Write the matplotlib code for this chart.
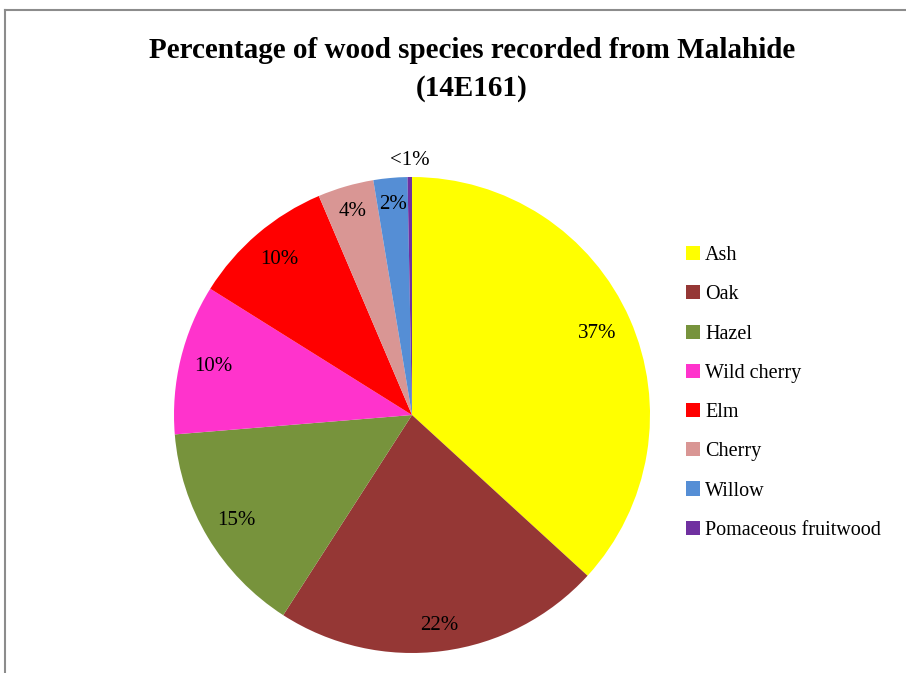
import numpy as np
import matplotlib
matplotlib.use("Agg")
import matplotlib.pyplot as plt
from matplotlib.lines import Line2D
from matplotlib.patches import Patch

species = ["Ash", "Oak", "Hazel", "Wild cherry", "Elm", "Cherry", "Willow",
           "Pomaceous fruitwood"]
percent = [36.8, 22.3, 14.6, 10.2, 9.7, 3.8, 2.3, 0.3]
pct_labels = ["37%", "22%", "15%", "10%", "10%", "4%", "2%", "<1%"]
colors = ["#FFFF00", "#953735", "#77933C", "#FF33CC", "#FF0000", "#D99694",
          "#558ED5", "#7030A0"]
label_dist = [0.85, 0.89, 0.86, 0.86, 0.86, 0.89, 0.89, 1.07]

plt.rcParams["font.family"] = ["Liberation Serif", "DejaVu Serif"]

W, H = 906, 673
fig = plt.figure(figsize=(W / 100, H / 100), dpi=100)

# chart frame (top and left edges visible)
fig.add_artist(Line2D([5 / W, 5 / W], [0, 1 - 10 / H], transform=fig.transFigure,
                      color="#8c8c8c", lw=1.5))
fig.add_artist(Line2D([5 / W, 1], [1 - 10 / H, 1 - 10 / H], transform=fig.transFigure,
                      color="#8c8c8c", lw=1.5))

cx, cy, r = 412, 415, 238
ax = fig.add_axes([(cx - r) / W, (H - cy - r) / H, 2 * r / W, 2 * r / H])
wedges, _ = ax.pie(percent, colors=colors, startangle=90, counterclock=False,
                   radius=1.0, wedgeprops=dict(linewidth=0))
ax.set_xlim(-1, 1)
ax.set_ylim(-1, 1)
ax.set_aspect("equal")
ax.axis("off")

for w, lab, d in zip(wedges, pct_labels, label_dist):
    mid = np.deg2rad((w.theta1 + w.theta2) / 2)
    ax.text(d * np.cos(mid), d * np.sin(mid), lab, ha="center", va="center",
            fontsize=15, color="black")

fig.text(472 / W, 1 - 51 / H, "Percentage of wood species recorded from Malahide",
         ha="center", va="center", fontsize=21, fontweight="bold")
fig.text(472 / W, 1 - 88 / H, "(14E161)", ha="center", va="center",
         fontsize=21, fontweight="bold")

handles = [Patch(facecolor=c, edgecolor="none") for c in colors]
leg = fig.legend(handles, species, loc="upper left",
                 bbox_to_anchor=(678 / W, 1 - 238 / H), frameon=False,
                 fontsize=14.5, handlelength=0.7, handleheight=0.7,
                 handletextpad=0.25, labelspacing=1.0, borderaxespad=0)

fig.savefig("out.png", dpi=100)
